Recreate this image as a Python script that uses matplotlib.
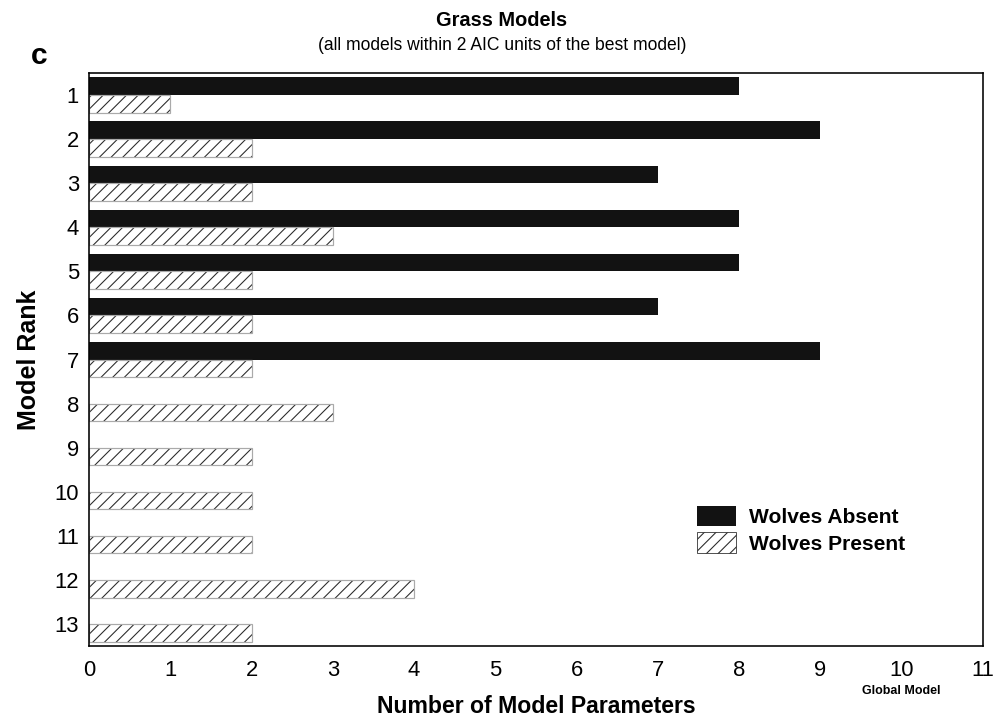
import matplotlib
matplotlib.use("Agg")
import matplotlib.pyplot as plt
from matplotlib.patches import Patch

# model rank (1 = best) and number of parameters in each model
ranks = list(range(1, 14))
wolves_absent = [8, 9, 7, 8, 8, 7, 9]
wolves_present = [1, 2, 2, 3, 2, 2, 2, 3, 2, 2, 2, 4, 2]
xticks = list(range(0, 12))

# sizes below are given in pixels and converted to points
DPI = 70
PX = 72.0 / DPI

plt.rcParams['font.family'] = ['Liberation Sans', 'DejaVu Sans']
plt.rcParams['hatch.linewidth'] = 1.1

fig = plt.figure(figsize=(1003 / DPI, 723 / DPI), dpi=DPI)
ax = fig.add_axes([89 / 1003, 1 - 646 / 723, (983 - 89) / 1003, (646 - 73) / 723])

absent_y = [r - 0.2 for r in ranks[:len(wolves_absent)]]
present_y = [r + 0.2 for r in ranks]

ax.barh(absent_y, wolves_absent, height=0.4, color='#121212', linewidth=0)
ax.barh(present_y, wolves_present, height=0.4, facecolor='white',
        edgecolor='#2a2a2a', hatch='//', linewidth=0)
ax.barh(present_y, wolves_present, height=0.4, facecolor='none',
        edgecolor='#aaaaaa', linewidth=1.2 * PX)

ax.set_xlim(0, 11)
ax.set_ylim(13.5, 0.5)
ax.set_xticks(xticks)
ax.set_yticks(ranks)
ax.tick_params(length=0, labelsize=22 * PX)
ax.tick_params(axis='x', pad=14 * PX)
ax.tick_params(axis='y', pad=10 * PX)
for s in ax.spines.values():
    s.set_linewidth(1.6 * PX)
    s.set_color('black')

ax.set_xlabel('Number of Model Parameters', fontsize=23 * PX,
              fontweight='bold', labelpad=14 * PX)
ax.set_ylabel('Model Rank', fontsize=25 * PX, fontweight='bold',
              labelpad=14 * PX)

# note under the last full-model tick
ax.annotate('Global Model', xy=(10, 0), xycoords=('data', 'axes fraction'),
            xytext=(0, -39 * PX), textcoords='offset points',
            ha='center', va='top', fontsize=12.5 * PX, fontweight='bold')

fig.text(502 / 1003, 1 - 20 / 723, 'Grass Models', ha='center', va='center',
         fontsize=20 * PX, fontweight='bold')
fig.text(502 / 1003, 1 - 46 / 723,
         '(all models within 2 AIC units of the best model)',
         ha='center', va='center', fontsize=17.5 * PX)
fig.text(39 / 1003, 1 - 56 / 723, 'c', ha='center', va='center',
         fontsize=30 * PX, fontweight='bold')

handles = [
    Patch(facecolor='#121212', edgecolor='#121212', linewidth=0),
    Patch(facecolor='white', edgecolor='#2a2a2a', hatch='//',
          linewidth=0.8 * PX),
]
leg = ax.legend(handles, ['Wolves Absent', 'Wolves Present'],
                loc='upper left',
                bbox_to_anchor=(697 / 1003, 1 - 506 / 723),
                bbox_transform=fig.transFigure,
                frameon=False, borderpad=0, borderaxespad=0,
                handlelength=1.86, handleheight=1.1,
                labelspacing=0.25, handletextpad=0.6,
                prop={'size': 21 * PX, 'weight': 'bold'})

fig.savefig('out.png', dpi=DPI)
